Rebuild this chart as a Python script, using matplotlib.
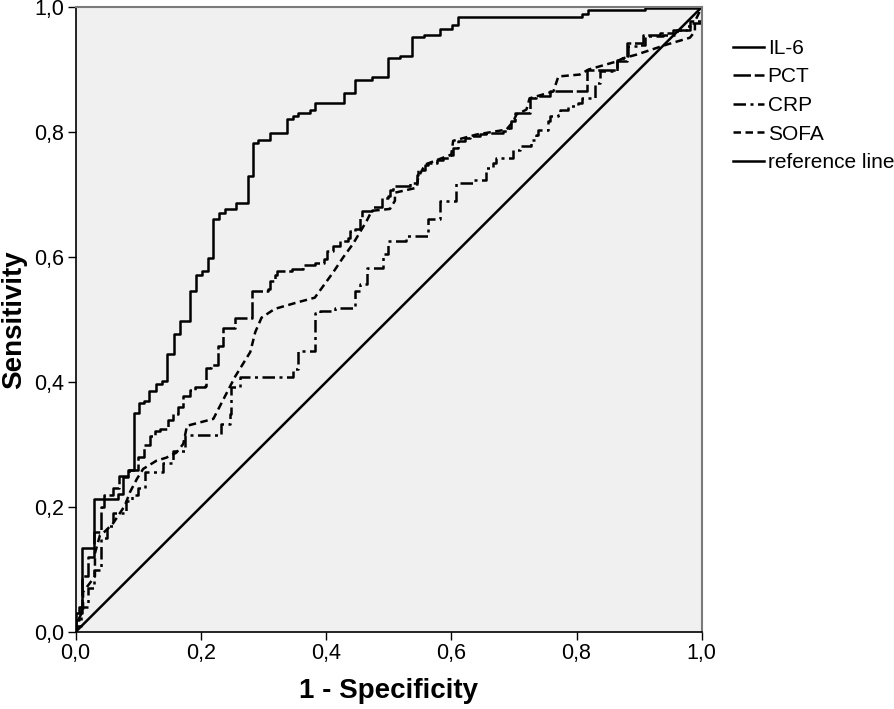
import numpy as np
import matplotlib
matplotlib.use('AGG')
import matplotlib.pyplot as plt
from matplotlib.ticker import FuncFormatter

plt.rcParams['font.family'] = ['Liberation Sans', 'DejaVu Sans']

# ROC curve points (1 - specificity, sensitivity)
il6_x = [0, 0, 0.01, 0.0295, 0.067, 0.075, 0.083, 0.093, 0.101, 0.109, 0.118, 0.128, 0.138,
         0.146, 0.157, 0.166, 0.183, 0.192, 0.202, 0.211, 0.219, 0.229, 0.238, 0.256, 0.275,
         0.283, 0.292, 0.311, 0.338, 0.347, 0.356, 0.375, 0.383, 0.428, 0.447, 0.473, 0.499,
         0.518, 0.537, 0.556, 0.582, 0.601, 0.610, 0.808, 0.819, 0.909, 1.0]
il6_y = [0, 0.03, 0.134, 0.213, 0.221, 0.248, 0.259, 0.350, 0.366, 0.370, 0.386, 0.397, 0.402,
         0.445, 0.477, 0.498, 0.545, 0.571, 0.577, 0.598, 0.661, 0.671, 0.677, 0.687, 0.730,
         0.782, 0.788, 0.799, 0.821, 0.825, 0.830, 0.836, 0.846, 0.863, 0.883, 0.888, 0.918,
         0.921, 0.952, 0.956, 0.965, 0.972, 0.984, 0.989, 0.995, 0.998, 1.0]

pct_x = [0, 0, 0.005, 0.01, 0.02, 0.03, 0.04, 0.046, 0.06, 0.07, 0.085, 0.1, 0.11, 0.119, 0.127,
         0.135, 0.148, 0.156, 0.164, 0.172, 0.183, 0.191, 0.207, 0.209, 0.217, 0.228, 0.236,
         0.255, 0.281, 0.308, 0.311, 0.318, 0.321, 0.345, 0.364, 0.382, 0.396, 0.401, 0.411,
         0.422, 0.435, 0.438, 0.446, 0.454, 0.457, 0.473, 0.489, 0.499, 0.502, 0.507, 0.534,
         0.545, 0.547, 0.558, 0.563, 0.577, 0.587, 0.598, 0.603, 0.611, 0.622, 0.630, 0.646,
         0.656, 0.683, 0.691, 0.696, 0.702, 0.725, 0.736, 0.757, 0.816, 0.864, 0.880, 0.906,
         0.933, 0.954, 0.981, 1.0]
pct_y = [0, 0.02, 0.04, 0.09, 0.12, 0.16, 0.20, 0.22, 0.23, 0.25, 0.26, 0.28, 0.30, 0.313, 0.322,
         0.325, 0.339, 0.349, 0.360, 0.378, 0.387, 0.392, 0.394, 0.422, 0.427, 0.458, 0.486,
         0.502, 0.546, 0.549, 0.562, 0.572, 0.578, 0.581, 0.587, 0.591, 0.597, 0.610, 0.618,
         0.626, 0.631, 0.642, 0.645, 0.663, 0.674, 0.680, 0.695, 0.698, 0.708, 0.714, 0.719,
         0.732, 0.740, 0.748, 0.751, 0.756, 0.759, 0.764, 0.775, 0.786, 0.791, 0.794, 0.797,
         0.799, 0.802, 0.807, 0.817, 0.831, 0.854, 0.857, 0.865, 0.900, 0.913, 0.942, 0.955,
         0.958, 0.964, 0.977, 1.0]

crp_x = [0, 0, 0.008, 0.02, 0.03, 0.04, 0.05, 0.06, 0.08, 0.09, 0.1, 0.111, 0.14, 0.155, 0.175,
         0.233, 0.247, 0.249, 0.263, 0.348, 0.356, 0.382, 0.390, 0.414, 0.446, 0.454, 0.465,
         0.491, 0.499, 0.528, 0.563, 0.582, 0.608, 0.635, 0.656, 0.667, 0.672, 0.699, 0.710,
         0.728, 0.736, 0.739, 0.755, 0.757, 0.771, 0.773, 0.787, 0.803, 0.808, 0.829, 0.837,
         0.864, 0.874, 0.882, 0.901, 0.909, 0.938, 0.960, 0.976, 0.981, 1.0]
crp_y = [0, 0.01, 0.04, 0.07, 0.10, 0.15, 0.17, 0.19, 0.21, 0.22, 0.23, 0.256, 0.27, 0.29, 0.315,
         0.333, 0.349, 0.392, 0.408, 0.421, 0.450, 0.511, 0.514, 0.519, 0.545, 0.557, 0.583,
         0.605, 0.626, 0.634, 0.661, 0.690, 0.719, 0.724, 0.743, 0.751, 0.759, 0.772, 0.778,
         0.788, 0.796, 0.804, 0.817, 0.826, 0.828, 0.836, 0.841, 0.847, 0.855, 0.879, 0.897,
         0.916, 0.921, 0.937, 0.940, 0.953, 0.956, 0.964, 0.969, 0.974, 1.0]

sofa_x = [0, 0, 0.012, 0.012, 0.031, 0.031, 0.039, 0.047, 0.06, 0.074, 0.079, 0.087, 0.098, 0.108,
          0.129, 0.145, 0.161, 0.172, 0.178, 0.22, 0.255, 0.279, 0.287, 0.297, 0.318, 0.356,
          0.382, 0.390, 0.411, 0.427, 0.443, 0.465, 0.473, 0.502, 0.510, 0.510, 0.545, 0.547,
          0.558, 0.600, 0.603, 0.640, 0.688, 0.699, 0.704, 0.720, 0.725, 0.763, 0.771, 0.805,
          0.819, 0.864, 0.874, 0.896, 0.944, 0.981, 0.989, 0.989, 1.0]
sofa_y = [0, 0.01, 0.035, 0.064, 0.089, 0.126, 0.155, 0.161, 0.174, 0.195, 0.203, 0.224, 0.245,
          0.261, 0.274, 0.279, 0.287, 0.301, 0.330, 0.341, 0.409, 0.448, 0.480, 0.503, 0.517,
          0.528, 0.535, 0.546, 0.575, 0.599, 0.621, 0.658, 0.674, 0.677, 0.690, 0.703, 0.711,
          0.727, 0.748, 0.764, 0.786, 0.796, 0.804, 0.817, 0.828, 0.836, 0.854, 0.865, 0.889,
          0.892, 0.900, 0.913, 0.918, 0.924, 0.940, 0.951, 0.961, 0.977, 1.0]

ref = [0, 1]

fig = plt.figure(figsize=(8.94, 7.09), dpi=100)
ax = fig.add_axes([0.0845, 0.1086, 0.7005, 0.8814])
ax.set_facecolor('#f0f0f0')

lw = 1.8
ax.plot(il6_x, il6_y, color='black', lw=lw, drawstyle='steps-post', label='IL-6')
ax.plot(pct_x, pct_y, color='black', lw=lw, drawstyle='steps-post', dashes=(7, 1.5), label='PCT')
ax.plot(crp_x, crp_y, color='black', lw=lw, drawstyle='steps-post', dashes=(5, 1.8, 1.2, 1.8), label='CRP')
ax.plot(sofa_x, sofa_y, color='black', lw=lw, dashes=(3, 1.8), label='SOFA')
ax.plot(ref, ref, color='black', lw=lw, label='reference line')

ax.set_xlim(0, 1)
ax.set_ylim(0, 1)
ticks = [0, 0.2, 0.4, 0.6, 0.8, 1.0]
ax.set_xticks(ticks)
ax.set_yticks(ticks)
comma = FuncFormatter(lambda v, p: ('%.1f' % v).replace('.', ','))
ax.xaxis.set_major_formatter(comma)
ax.yaxis.set_major_formatter(comma)
ax.tick_params(direction='out', length=6, width=1, labelsize=15.5, pad=2)

for side in ['left', 'bottom']:
    ax.spines[side].set_color('black')
    ax.spines[side].set_linewidth(1.2)
for side in ['top', 'right']:
    ax.spines[side].set_color('#7a7a7a')
    ax.spines[side].set_linewidth(1.5)

ax.set_xlabel('1 - Specificity', fontsize=20, fontweight='bold', labelpad=10)
ax.set_ylabel('Sensitivity', fontsize=20, fontweight='bold', labelpad=5)

fig.legend(loc='upper left', bbox_to_anchor=(0.811, 0.957), frameon=False, fontsize=15,
           handlelength=1.45, handletextpad=0.2, labelspacing=0.46, borderaxespad=0)

fig.savefig('out.png', dpi=100)
